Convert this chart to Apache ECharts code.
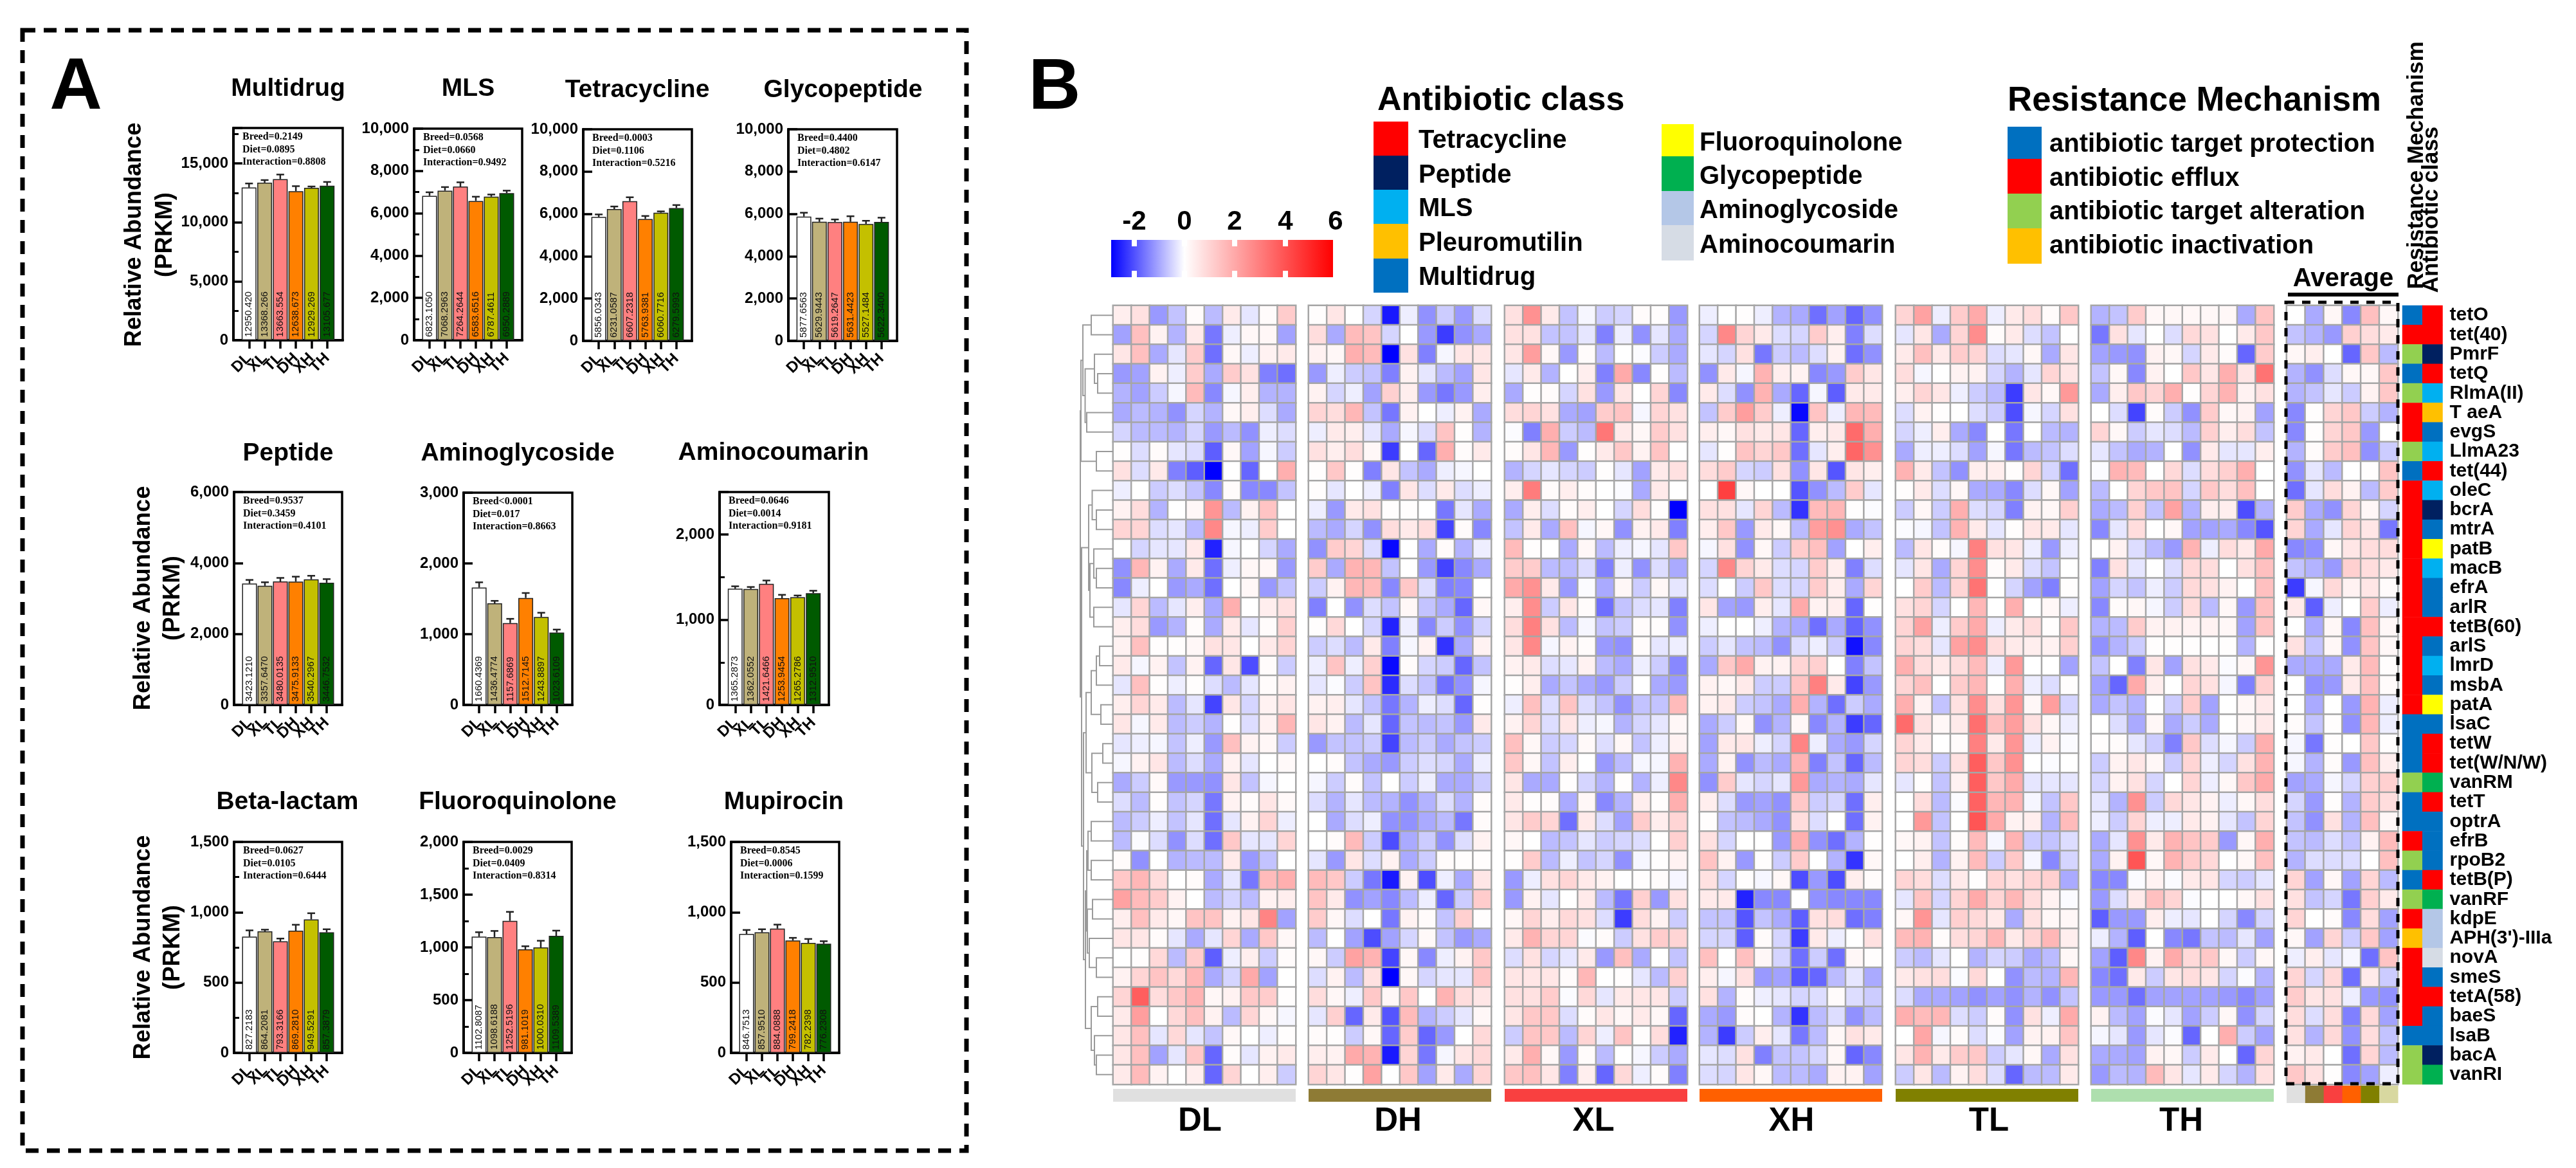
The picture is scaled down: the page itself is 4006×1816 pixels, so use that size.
<!DOCTYPE html>
<html><head><meta charset="utf-8">
<style>html,body{margin:0;padding:0;background:#fff}#c{width:4006px;height:1816px}</style>
<script src="https://cdn.jsdelivr.net/npm/echarts@6/dist/echarts.min.js"></script>
</head><body><div id="c"></div>
<script>
// ---------- Panel A data ----------
const treatments = ['DL','XL','TL','DH','XH','TH'];
const barColors = ['#ffffff','#bfb27a','#ff8080','#ff8000','#c4c000','#005a00'];
const multidrugValues=[12950,13368,13663,12638,12929,13105];
const multidrugLabels=['12950.420','13368.266','13663.554','12638.673','12929.269','13105.677'];
const multidrugErrors=[345,215,390,430,110,320];
const mlsValues=[6823,7068,7264,6583,6787,6950];
const mlsLabels=['6823.1050','7068.2963','7264.2644','6583.6516','6787.4611','6950.2889'];
const mlsErrors=[170,170,200,200,100,120];
const tetracyclineValues=[5856,6231,6607,5763,6060,6279];
const tetracyclineLabels=['5856.0343','6231.0587','6607.2318','5763.9381','6060.7716','6279.5993'];
const tetracyclineErrors=[120,120,180,140,60,140];
const glycopeptideValues=[5877,5629,5619,5631,5527,5622];
const glycopeptideLabels=['5877.6563','5629.9443','5619.2647','5631.4423','5527.1484','5622.3400'];
const glycopeptideErrors=[180,150,120,260,150,200];
const peptideValues=[3423,3357,3480,3475,3540,3446];
const peptideLabels=['3423.1210','3357.6470','3480.0135','3475.9133','3540.2967','3446.7532'];
const peptideErrors=[100,100,100,140,100,100];
const aminoglycosideValues=[1660,1436,1157,1512,1243,1023];
const aminoglycosideLabels=['1660.4369','1436.4774','1157.6869','1512.7145','1243.8897','1023.6109'];
const aminoglycosideErrors=[73,35,60,70,60,42];
const aminocoumarinValues=[1365,1362,1421,1253,1265,1312];
const aminocoumarinLabels=['1365.2873','1362.0552','1421.6466','1253.9454','1265.2786','1312.9510'];
const aminocoumarinErrors=[28,23,40,40,20,29];
const betaValues=[827,864,793,869,949,857];
const betaLabels=['827.2183','864.2081','793.3166','869.2810','949.5291','857.3879'];
const betaErrors=[44,12,20,42,44,22];
const fluoroValues=[1102,1098,1252,981,1000,1109];
const fluoroLabels=['1102.8087','1098.6188','1252.5196','981.1019','1000.0310','1109.5389'];
const fluoroErrors=[42,58,85,30,63,50];
const mupirocinValues=[846,857,884,799,782,776];
const mupirocinLabels=['846.7513','857.9510','884.0888','799.2418','782.2398','776.2308'];
const mupirocinErrors=[28,22,28,19,28,18];

// ---------- Panel B data ----------
const genes=['tetO','tet(40)','PmrF','tetQ','RlmA(II)','T aeA','evgS','LlmA23','tet(44)','oleC','bcrA','mtrA','patB','macB','efrA','arlR','tetB(60)','arlS','lmrD','msbA','patA','lsaC','tetW','tet(W/N/W)','vanRM','tetT','optrA','efrB','rpoB2','tetB(P)','vanRF','kdpE',"APH(3')-IIIa",'novA','smeS','tetA(58)','baeS','lsaB','bacA','vanRI'];
const classNames=['Tetracycline','Peptide','MLS','Pleuromutilin','Multidrug','Fluoroquinolone','Glycopeptide','Aminoglycoside','Aminocoumarin'];
const classColors=['#ff0000','#002060','#00b0f0','#ffc000','#0070c0','#ffff00','#00b050','#b4c7e7','#d6dce5'];
const mechanismNames=['antibiotic target protection','antibiotic efflux','antibiotic target alteration','antibiotic inactivation'];
const mechanismColors=['#0070c0','#ff0000','#92d050','#ffc000'];
// indices into mechanismNames / classNames, one per gene
const geneMechanism=[0,1,2,0,2,1,1,2,0,1,1,1,1,1,1,1,1,1,1,1,1,0,0,0,2,0,0,1,2,0,2,1,3,1,1,1,1,0,2,2];
const geneClass=[0,0,1,0,2,3,4,2,0,2,1,4,5,2,4,4,0,4,2,4,5,4,0,0,6,0,4,4,4,0,6,7,7,8,4,0,4,4,1,6];

const dlRows=[
[.4,.7,-1.2,-.7,.1,-.8,.5,-.3,.1,1.2],[-1.1,1.5,.3,-.9,.5,-1.6,-.2,.2,.2,-1.1],[.6,1.5,-1,-.3,1.2,-1.7,.2,-.2,.3,.5],[-1.2,-1.1,.3,-.2,1.2,-1,1.2,.7,-1.5,-1.7],[-.9,-1.1,-.6,-.1,1.6,-1.4,-.1,.4,-.9,-.9],
[-1,-.8,-.9,-1.3,-.5,-.9,.2,.4,-.4,-1],[-.5,-.8,-.8,-.9,-.5,-1.2,-.8,-1.3,-.2,-.4],[.05,-.4,.1,-.3,-.4,-1.9,.2,-1.1,-.1,-.6],[.7,-.4,.5,-1.5,-1.9,-3,0,-1.8,0,1.9],[-.2,0,-.6,-.4,-.7,-1.4,.1,-1.4,-1.4,-.7],
[.3,.8,-.9,0,.2,2.5,-.8,.3,1.4,0],[1,1,-.4,-.3,-.8,2.8,-.1,-.2,1.2,0],[0,-.5,-.3,-.3,.5,-2.6,-.1,0,-.5,-1],[-1.3,1.7,.3,-1,.5,-1.7,-.2,.2,.2,-1.2],[-1.4,-.2,0,-1.2,-1,-1.7,0,.2,-1.2,-.7],
[-.3,1,-.8,-.3,.4,-1,1.9,0,.4,.7],[.4,.8,-1.2,-.9,.1,-1,.5,-.3,.1,1.1],[.3,1.5,.05,.05,.2,.7,.6,0,.5,1],[.5,-.1,.3,-.7,.3,-1.8,.6,-2.1,.1,-.6],[-.3,1.5,.05,-.2,.05,-.4,-.8,-.3,.1,.3],
[.4,1,.5,-.8,-.3,-2.2,.6,-.5,.3,.6],[.6,-.1,.5,-.8,-.6,-.9,.05,-.4,.3,1.7],[-.3,-.2,-.1,-.7,-.2,-1.2,1.5,.3,.2,-.6],[-.1,.3,.6,-.8,-.4,-1,.3,-.3,0,.15],[-1,-.6,.15,-1.2,-1.2,-1.3,.6,-.7,-.1,0],
[-.4,-.8,.05,-.7,-.5,-1.6,.3,.1,.6,.15],[-.8,-.6,-.2,-.7,-.3,-1.7,-.3,.3,1,-.2],[-.8,-.05,-.4,-1.3,-.4,-1.7,1.3,-.3,-.3,1],[.1,-1.3,0,-.9,-.8,-.8,.5,-1.2,-.7,0],[1.3,1.7,.8,0,.1,-1,-.3,-1.6,1.6,1.9],
[2.2,1.6,1.2,.3,0,-.8,-.5,-.8,.3,.4],[.4,1.5,.5,.2,1.4,1.4,.3,.6,2.9,-1.1],[.6,.6,.1,-.3,-1,-.3,1,-1,1.3,.2],[0,.05,.9,-.8,1.2,-1.9,-.2,.4,-.6,.1],[.3,1,1.4,.9,1.7,-1,-.5,2,-1.1,0],
[1,3.8,.8,1.3,1.8,.2,.3,1.3,1.2,.05],[.5,2.3,0,.9,1.5,.3,-.8,1,.2,-.1],[.6,1.5,-.3,.9,-.3,-.7,.2,0,-.2,.05],[.6,1.5,-1.1,-.3,1.3,-1.8,.1,-.3,.3,.5],[.5,1.6,.3,0,.4,-1.8,1,0,.4,-.6]];
const dhRows=[
[.05,.6,0,-.5,-2.7,-.2,-1.3,-.6,-1.2,-.4],[.8,-1,1.6,1.4,-.5,0,-1.2,-2.3,-1.3,-1],[.3,.2,1.9,1.6,-3,.7,-1.5,-.1,.6,.6],[-1.2,-.2,-.6,-.7,-1.5,.3,-.3,-.8,-1.1,.6],[.3,-.5,-.2,-1.1,1.1,.4,-1.2,-1.6,-1.2,.4],
[1,.8,1.7,-.7,-1.6,.3,0,-.2,.3,-1],[-.2,.5,.4,-.3,-1,-.1,-.4,1.4,.05,-.9],[.7,.4,.8,.2,-2.3,0,-1.8,1.9,.1,.5],[.05,1.3,.05,-1.5,.6,-.7,-1,-.2,-.1,0],[.05,-.3,0,-.2,-1.5,.6,-.4,.5,-.4,-.2],
[-.2,-1.2,.5,.7,.05,.05,0,-1.6,-.3,-1],[-.8,-1,-.5,-1.3,.8,.5,.8,-2.2,.1,-1.4],[-1.3,1.2,1,-.4,-2.9,0,-1,.1,-.9,-.2],[1.2,-1,1.8,1.7,-.7,0,-1.2,-2.2,-1.4,-1],[-.6,.3,1.7,1.6,-1.4,1.3,-.4,-1.5,-1.4,0],
[-1.5,0,-1.3,-.4,-.7,.2,-.7,-1,-1.8,.2],[.05,.9,0,-.5,-2.6,-.2,-1.4,-.6,-1.3,-.5],[-.6,-.4,-.8,.5,-1.5,-.1,.3,-2.4,-1,.3],[-.2,1.4,-.2,1.1,-2.9,.1,-.5,-.6,-1.8,-.7],[-.3,-.05,-.6,1.4,-2.5,-.4,-.7,-1.7,-1.3,-.1],
[.3,.4,-.3,-.7,-1.6,-.9,-.2,-.4,-1.8,.05],[.6,.3,-.8,-.3,-1.8,-.7,-.8,-.7,-1.2,.5],[-1.2,-.7,-.7,-.6,-2.2,-.8,-.6,-1,-.7,-.6],[0,.1,-.7,-1,-1.2,-.6,-.4,-.5,-1,-.2],[-.1,-.6,.1,-.7,0,-.6,-.2,-1,-1,-.6],
[-.4,-.9,-.3,-.8,-.9,-1.3,-.9,-.4,-.9,.1],[0,-1,-.4,-.2,-1.3,-1.3,-1,-.8,-1.6,.1],[0,.1,1.6,-.6,-2.1,-1,-.6,-1.3,-.4,.3],[-.3,-1.2,.6,-.4,.3,-1,-.6,.1,.05,.05],[1.6,1.3,-.6,-1.6,-2.7,.3,-2.1,-.2,-1,.6],
[1.4,.5,-1.3,-1.1,-1.4,-.8,-.2,-1.8,-.6,1.2],[1.2,.2,-.4,0,-1.6,.3,.1,-.7,1.1,.05],[-.8,0,-1.1,-2.1,-1.1,-.5,.15,-.7,-1.2,-1],[.2,-.6,2.2,1.8,-2.2,.2,-1.4,-.2,.3,1.3],[-.4,.3,-.8,.7,-3,.2,-.5,-.3,-.3,1.4],
[.8,.2,-.2,1.3,.2,1.3,0,1.8,.8,.6],[-.3,1.1,-1.8,.5,-2,1.6,-.9,-.6,-.3,.2],[.1,.05,-.6,.2,-1.8,1.2,-1.8,-1.2,0,.9],[.4,.3,2,1.8,-2.7,1,-1.6,-.1,.6,.9],[1,.6,.05,2.2,0,1.3,-1.1,.5,-1,1]];
const xlRows=[
[.7,2.6,.5,-.7,-.1,-.6,-.5,.1,.05,-1.2],[.7,.7,-.7,-.7,-.3,-1.5,-.2,-1.3,-.3,-1],[.6,2.3,.2,-1.2,.1,-.8,0,-.05,-.6,-1],[-.3,.5,-.9,0,.4,-1.5,2,-1.4,.05,-.8],[-1,.05,.1,-.5,.7,-1.2,.6,0,1,-1.4],
[.8,1,.7,-1,-1.1,1.2,1.4,-.1,1,.7],[-.05,-1.5,1.9,-.6,-.8,3.2,.5,.2,1.2,.7],[.1,.6,1.7,-1.2,.05,.5,1.3,.3,1.4,0],[-.9,-.5,-.3,-.5,-.6,.05,-.3,-1.1,.5,.7],[.4,3.1,.1,.4,.1,0,-.05,-1,.5,0],
[-1,.4,-.4,.1,.4,0,-.5,.8,.05,-3],[-.7,.5,-1,1.5,-.1,.2,-1.3,.3,.5,-1.5],[1.6,.05,0,-1,.2,-.8,-.2,-.1,-.3,1.3],[1.2,1.2,-.8,-.8,-.4,-1.5,-.2,-1.3,-.4,-1],[2,2.6,.5,-1.2,-.05,-1,.2,-.6,.2,-.3],
[.4,2.7,-.6,.6,.1,-1.7,-.7,-.4,-.3,-1.5],[.8,3,.7,-.8,-.1,-.7,-.6,.1,.05,-1.3],[.6,2.8,-.1,.3,.1,-1.2,-1.3,.1,-.3,-.2],[.3,.5,-.4,-.3,.3,-.8,-1,-.2,-.6,-1.4],[.05,.4,-1,-.7,-1,-1.2,-.6,0,-1,-1.2],
[-.2,1.5,-.4,1.4,-.4,-.7,-1.3,-.7,-.7,1.6],[.3,1,-.4,.6,-.2,-.1,-.9,-.5,-.3,.2],[1.5,.2,-.6,-.5,.15,-.4,.2,-.7,-.2,.3],[1.3,.2,-.7,.4,0,-1.2,-.8,-.1,-.1,1.8],[.6,-1,-1,.05,-.5,-.9,.05,-.9,-.2,2.8],
[.5,.05,.1,-1,.2,-1.4,-.9,.4,.05,1.9],[.6,1.2,1,-1.7,.5,-.4,-1.1,1.2,.4,1],[.2,0,-.8,-.7,-.3,-.6,-.5,-.4,0,1.1],[.05,1.2,-.8,-.2,-.7,-.5,-1.3,-.1,.05,.3],[-1.2,-.2,.7,1,.5,.3,0,.05,.1,-.1],
[-1.2,.3,-.3,0,.5,-.8,-1.6,1.1,-1.2,.7],[.2,1,.4,.9,.7,-.4,-2.3,.8,.3,-.6],[.5,1.8,1,1,-.05,.1,-.6,.7,1.2,1],[-.4,.7,-.5,-.3,.5,-1.2,1.5,-1,0,-.7],[.6,.6,.6,.1,1.7,0,.05,-.3,-.8,1.1],
[.7,.7,1.2,-.05,.9,-.3,.5,.6,.6,-.6],[.6,1.3,1.3,-.4,.1,.6,.2,.5,.2,-1.8],[-.6,1.4,1.3,-.8,1,-.2,1.4,.05,.8,-2.6],[.5,1.9,.2,-1.2,.1,-.8,0,-.1,-.6,-1],[1.3,1.5,.6,-1.5,.4,-1.8,.9,-.2,.1,-1.5]];
const xhRows=[
[-.2,0,.05,-.2,-.9,-1,-1.7,-1.1,-1.8,-1.3],[-.5,2.8,1,.5,-.4,-.5,1.2,.4,-1.5,-.4],[-.3,-.5,.7,-1.6,-.6,-.8,-.4,.3,-1.7,-1.3],[-1.3,.5,-.1,1.8,.4,.3,-1.4,-1.2,1.2,.6],[.5,-.4,-1.3,1.8,-1,-1.8,-.1,-1.9,.5,.5],
[-.7,1.2,2.3,1.2,-.2,-2.9,1.4,-.2,1.7,1.6],[.4,.2,.7,.5,.6,-1.8,.4,.5,3.5,1.9],[-.3,.05,1.4,1,1.3,-1.7,-.3,.4,3.6,2.6],[.8,1.2,-.5,-.6,.7,-1.3,.6,-2,.6,.4],[0,4.5,.2,0,0,-2,-1.3,-.8,1.2,-.3],
[.7,.7,-.3,1,-.8,-2.4,1.6,1.7,.05,-.05],[.4,1.3,-1.2,.5,.2,-.8,2.3,2.6,-1,-.7],[-.1,.7,-1.3,.2,-.6,1.2,1.5,-1.1,0,.4],[-.5,2.8,1,.5,-.4,-.5,1.2,.4,-1.5,-.4],[-.4,0,-.6,1.3,-.4,-.5,1.2,.4,-1,1],
[.6,-1.1,-1.2,.4,-.3,2,.3,.4,-1.8,.05],[-.2,0,0,-.2,-.9,-1,-1.7,-1,-1.8,-1.3],[-.6,-.3,-.7,-.8,-1.3,-.4,-.2,-.6,-2.8,-1.4],[-1,1.3,2,.3,.3,1,1.1,0,-1.5,-.7],[.3,.2,.5,-.6,-.6,1.4,3,.5,-2.2,-1.2],
[.3,.5,-.6,-.7,-1,1.9,-.9,-1.7,-.6,-1],[-1,-.6,.2,-1.3,-.9,.2,-1.4,-.9,-2.3,-1.8],[-1.1,.5,.6,-.2,-.5,2.9,-.2,-1,-1.2,-.5],[-1,.3,-1.3,-.8,-1,1.8,-1.5,-.7,-1.8,-.8],[-1.3,1.2,-.3,-.5,-.3,2.4,-1,-.9,-1,-.3],
[.4,-.4,-1.2,-1.1,-1.3,1.3,-.6,-.5,-1.7,.4],[.05,-.7,-.8,-1,-1.3,.8,-.4,0,-1.7,.3],[.7,-.5,0,0,-1.2,1.9,-1.3,-1.7,-.9,.05],[1.4,.3,-1.2,.05,-.6,1.2,0,-.9,-2.4,.2],[.7,-.5,.05,-.1,.2,-2.1,-1.2,-2.1,.4,.1],
[.5,.5,-2.6,-1.4,-1.4,0,-1.3,-1.4,-1.4,-1.4],[-.7,-.7,-2,-.7,-1,-1.9,.7,.8,-1.7,-1.5],[-.5,-.5,-1.9,.1,-.5,-2.3,.5,-.2,0,.7],[1.5,0,1.5,.2,-.5,-1.7,-.6,-1.7,.2,.05],[.4,-.1,.7,-1.2,-1.1,-2,-1.8,-.8,-.3,-1],
[.7,-.9,.1,-.2,-.3,-.5,-.4,.1,-.4,-.6],[-1,-1.2,.1,0,-.9,-2.4,-.8,-.4,-1.3,-.8],[-.9,-2.3,-.6,.4,-.3,-1.6,-.8,.2,.7,.5],[-.3,-.4,.7,-1.5,-.7,-.7,-.5,.2,-1.8,-1.4],[-.4,-.5,.6,.2,-.8,-.8,-1,.3,.3,-1.1]];
const tlRows=[
[1,2.2,-.2,1.2,2,-.2,.5,.8,.1,1.3],[-.3,.6,-1,1,2.7,.1,.5,-.4,-.7,0],[.5,1.5,.5,1.2,1,-.4,-.3,.2,-1,.6],[.8,-.1,0,.3,.3,-.5,-.9,-.3,1,.6],[.4,1,.6,-.2,-.6,-.8,-2.3,.6,.2,2.4],
[-.4,.3,.05,0,-.4,-.6,-2.1,-.1,-.5,.7],[-.5,-.2,.4,-1,-1.4,0,-1.6,0,-.8,-.9],[-1,-.2,-.2,-.4,-1.1,-.1,-1.6,-.8,-.7,-.4],[1.8,.5,-.7,-1.3,.4,.4,.05,1,-.5,-1.7],[.05,.5,-.4,.2,-1,-1,-1.4,-.4,.2,-1.1],
[-.6,.2,-.6,1.9,-.4,-.5,-1.5,.3,.2,1.1],[-.05,-.1,-.7,1.8,.5,-.3,.05,.6,.5,-.3],[-.8,.6,.1,-.1,3,.7,.6,-.2,-1.2,-.2],[-.3,.6,-1,1,2.7,.1,.5,-.4,-.7,0],[0,1.2,-.8,1,3.3,0,-.5,-1.1,-1.5,.05],
[.7,1,-.5,0,1.7,0,1.9,0,.2,-.2],[1,2.2,-.2,1.2,2,-.2,.5,.8,.05,1.3],[1,.8,-.3,2.2,2.7,.8,.5,.4,.3,1.1],[1.9,.8,.5,.8,1.6,-.2,2.4,0,0,-1.1],[1,1.5,0,1.2,1.7,0,1.9,-.2,-.4,.05],
[1.9,.3,-.7,.7,2.7,.7,2.5,.2,2.3,-.5],[3.5,.7,.2,.5,3.4,1.5,2.3,.7,.2,-.2],[1,.5,0,.1,3,.5,2.5,-.2,.3,-.05],[1,.8,-.6,.7,3.8,1.3,2.6,0,-.05,0],[-.3,.05,-.7,.3,3.8,1.3,2,-.3,-.3,-.3],
[0,.8,-.8,-.05,3.7,1.7,1.8,-.1,-.7,1.3],[0,2.4,-.7,0,4,2,.3,.4,-.9,1.6],[.2,.3,-.7,.1,1.6,-.1,1.8,-.6,-.7,-.4],[0,.4,-.9,.3,1.6,-.6,1.3,-.1,-1.4,-.5],[1,.8,-.4,.5,.05,1,.7,1,1.1,-1],
[-.3,1.4,-.5,1,2,1,1.7,.8,.3,-.05],[.2,2.5,-.3,1.1,.9,.5,-1,.7,.2,.2],[1.6,1.8,.1,.8,1,1.7,.5,1,1.7,.4],[-.6,-.8,-.3,0,-.9,-.5,-.6,-1,-.8,.2],[.5,.7,.8,-.05,.9,0,-1.3,-.8,-.9,1.7],
[-.4,-1,-1,-1.1,-1.3,-1.1,-1.3,-.9,-1.3,-.7],[1.9,1.6,1.7,-.4,-.6,.1,-1.3,.7,-.2,2],[0,2.1,-.1,.1,-.4,-.05,-1.1,.3,.3,1.4],[.6,1.8,.5,1.2,1.3,-.6,-.3,.2,-1,.7],[-.6,.6,-.8,.3,.8,-.4,-1.8,-.8,-.8,.5]];
const thRows=[
[-.9,-.7,1.2,.2,.2,.2,.2,.2,-1,1.4],[-1.6,.7,-.3,0,-.4,.9,.7,0,.5,1.3],[-1.1,-1.2,-1.3,.3,.2,-.5,.5,.1,-1.8,1.2],[-.7,.2,-1.4,.3,0,1.3,.6,1.9,.6,3.3],[-1,.4,1.3,1,1.9,.05,1,1.8,.3,.7],
[0,-.4,-2.2,.1,-.6,-1.3,1.2,.2,.3,-1.1],[1,.2,-.6,-.3,-.4,-.8,1.1,.4,.8,-.7],[-.3,-.7,-1,-.9,0,-1.3,.5,-.3,-.3,.4],[-.05,1.8,1.6,0,.9,-.4,.8,1.1,1.9,0],[-.8,0,1,1.3,1.4,-.5,1.3,.8,1.5,0],
[-1,-.8,1.1,-.7,2.2,-.9,.4,.4,-2.1,-.9],[-1.4,-.3,.8,0,.2,-1.1,-1.1,-1,-1.4,-2],[0,.3,-.4,-.8,-1.2,1.8,-.2,.8,.5,2],[-1.5,.7,-.3,0,-.4,.9,.8,0,.7,1.5],[-1.1,-.5,-.7,-.2,-.6,.9,.7,.3,0,1.5],
[-1.4,.1,.2,-.1,-.6,.8,-.8,.2,-1.2,1.5],[-.9,-.8,1.2,.3,.3,.3,.3,.2,-1.1,1.4],[-1.3,-.9,-.6,.05,.05,.05,0,.05,-.9,.05],[-.7,0,-1.5,.6,-1.1,.7,.5,-.05,.2,2.5],[-1.1,-1.8,2,.4,0,1,.7,-.1,-1.5,1.1],
[-1,-.7,-.9,0,-.6,1.2,-1.1,0,.2,.5],[0,-.4,-1,.2,-1,-.6,-1,0,.2,.5],[.05,.1,-.3,-.6,-1.5,1.3,-.4,-.1,-.6,1.9],[-.6,.3,.6,.2,-.6,1,-.2,-.5,.7,1.8],[-.5,.3,.7,-.5,0,1,-.2,.2,1.3,2],
[-.3,-.9,2.6,-.6,.9,.6,.3,-.2,.2,.8],[-.2,-.6,1,-.2,-.2,.5,.3,-.3,-.7,1],[-1,-.3,2.6,.5,1.8,1.4,1.2,-1.2,.2,1.9],[-1,.3,4,.2,1.8,1.2,.9,0,.2,1.5],[-1.4,-1.4,-.05,.3,-.05,.5,.6,-.5,-.6,-.3],
[-1.2,-.4,.5,1.5,1,-.05,0,0,.2,.7],[-1.9,-1.2,-1.2,.4,-.2,-.3,0,-.5,-1.4,-.5],[-.2,-.9,-1.9,0,-1.4,-1.6,-.7,-.8,-.3,-1.1],[-1.1,-1.9,2.8,.3,2,.9,1.3,.2,-.6,.2],[-1.4,-1.7,.5,-.6,.6,.8,.6,-.5,-.05,-.9],
[-1.2,-1.2,-1.7,-1.1,-1.1,-1.1,-1.1,-1.2,-1.4,-1.1],[.3,-.8,-1.1,-.05,-.3,-1.1,-.6,.2,-1.3,-.5],[-.1,-.3,-1.2,-.3,-.05,-1.8,0,1.9,-.6,-1.1],[-1,-1,-1.1,.3,.2,-.6,.5,0,-1.8,1],[-1.2,-.8,-.9,1.6,.6,-.3,.5,-.5,-.9,.7]];
const avgRows=[
[0,-1,.2,-1.4,1.5,.2],[-.7,-.9,-1.2,1.1,.8,.5],[.2,.4,0,-1.8,1.3,-.8],[-.9,-1.3,-.4,.2,.2,1.3],[-.9,-.7,-.3,-.6,.3,1.3],
[-1.4,.05,1,1.3,-.6,-.9],[-1.4,.05,1,1.3,-1.2,0],[-.9,.1,1.2,1.5,-1.3,-.6],[-1.3,-.3,-.8,0,.05,1.4],[-1.7,-.3,.8,.3,-.8,1.2],
[1.2,-1,-1.3,1,.2,-.5],[1,-1,-.3,1,.6,-1.6],[-1.4,-1.3,.2,.6,.8,.8],[-.7,-.9,-1.2,1.1,.8,.5],[-2.3,-.1,.9,.3,.6,.1],
[.5,-1.9,-.2,0,1.2,-.2],[0,-1,.2,-1.4,1.5,.2],[.7,-.7,.2,-1.3,1.4,.2],[-1,-1,-1,.5,1.6,.05],[0,-1.3,-1.2,.5,1.5,.1],
[0,-1,0,-1.2,1.8,-.2],[.1,-.7,.05,-1.3,1.7,-.2],[-.1,-1.6,.05,0,1.3,.05],[-.1,-.9,.1,-1.2,1.5,.4],[-1.1,-1,-.1,-.5,1.1,1.1],
[-.5,-1.2,.05,-.9,1.2,.8],[-.7,-1.3,.7,-.9,1.5,.2],[-.7,-.8,-.4,-.7,.3,1.6],[-.9,-.4,-.4,-.4,0,1.5],[1,-1.1,.2,-1.1,1,-.8],
[.7,-.7,-.5,-1.6,1.1,.5],[1,0,.1,-1.4,.8,-1.1],[.2,-1.1,1,-.6,1.3,-1.1],[-.2,.4,-.3,-.1,-1.7,1.4],[1,-.5,.9,-1.7,.5,-.6],
[1.2,.6,.7,-.2,-1.2,-1.3],[.8,-.4,.8,-1.5,.9,-1.1],[.7,-.9,.9,-1.3,.8,-.7],[.3,.5,0,-1.7,1,-.8],[1.3,.7,.05,-1.4,-1.1,-.2]];
// row dendrogram: [height, childA, childB], a number child is a row index
const rowTree=[51,
 [50,[47,[34,0,1],[43.5,[29,2,[24,3,4]],[41,5,6]]],[26,7,8]],
 [49,[38,[32.5,9,[26,10,11]],[36,[30,12,[26,13,14]],[30,15,16]]],
  [46,[42,[34,[26,[21,17,18],19],[19,20,21]],[33,[16,22,23],[24,24,25]]],
   [43,[41,[39,[34,26,27],[34,28,29]],[40,[32,30,31],[37,32,[26,33,34]]]],
    [34,[24,35,36],[29,37,[26,38,39]]]]]]];

// ---------- layout ----------
const FONT='"Liberation Sans",Arial,sans-serif';
const SERIF='"Liberation Serif","Times New Roman",serif';
const panels=[
 {t:'Multidrug',v:multidrugValues,l:multidrugLabels,e:multidrugErrors,p:['Breed=0.2149','Diet=0.0895','Interaction=0.8808'],max:18000,step:5000,minor:true,box:[363,199,170,330],tx:448,ty:138},
 {t:'MLS',v:mlsValues,l:mlsLabels,e:mlsErrors,p:['Breed=0.0568','Diet=0.0660','Interaction=0.9492'],max:10000,step:2000,minor:true,box:[644,200,168,329],tx:728,ty:138},
 {t:'Tetracycline',v:tetracyclineValues,l:tetracyclineLabels,e:tetracyclineErrors,p:['Breed=0.0003','Diet=0.1106','Interaction=0.5216'],max:10000,step:2000,minor:false,box:[907,201,169,329],tx:991,ty:140},
 {t:'Glycopeptide',v:glycopeptideValues,l:glycopeptideLabels,e:glycopeptideErrors,p:['Breed=0.4400','Diet=0.4802','Interaction=0.6147'],max:10000,step:2000,minor:false,box:[1226,201,169,329],tx:1311,ty:140},
 {t:'Peptide',v:peptideValues,l:peptideLabels,e:peptideErrors,p:['Breed=0.9537','Diet=0.3459','Interaction=0.4101'],max:6000,step:2000,minor:false,box:[364,765,168,331],tx:448,ty:705},
 {t:'Aminoglycoside',v:aminoglycosideValues,l:aminoglycosideLabels,e:aminoglycosideErrors,p:['Breed<0.0001','Diet=0.017','Interaction=0.8663'],max:3000,step:1000,minor:false,box:[721,766,169,330],tx:805,ty:705},
 {t:'Aminocoumarin',v:aminocoumarinValues,l:aminocoumarinLabels,e:aminocoumarinErrors,p:['Breed=0.0646','Diet=0.0014','Interaction=0.9181'],max:2500,step:1000,minor:true,box:[1119,765,170,331],tx:1203,ty:704},
 {t:'Beta-lactam',v:betaValues,l:betaLabels,e:betaErrors,p:['Breed=0.0627','Diet=0.0105','Interaction=0.6444'],max:1500,step:500,minor:true,box:[364,1309,168,328],tx:447,ty:1247},
 {t:'Fluoroquinolone',v:fluoroValues,l:fluoroLabels,e:fluoroErrors,p:['Breed=0.0029','Diet=0.0409','Interaction=0.8314'],max:2000,step:500,minor:true,box:[721,1309,168,328],tx:805,ty:1247},
 {t:'Mupirocin',v:mupirocinValues,l:mupirocinLabels,e:mupirocinErrors,p:['Breed=0.8545','Diet=0.0006','Interaction=0.1599'],max:1500,step:500,minor:false,box:[1137,1309,168,328],tx:1219,ty:1247}
];
const yLabelRows=[[209,257,365],[223,269,930],[223,269,1473]];
const blocks=[
 {name:'DL',rows:dlRows,x:1731,w:284,color:'#e0e0e0',lx:1866},
 {name:'DH',rows:dhRows,x:2035,w:284,color:'#8e7b35',lx:2174},
 {name:'XL',rows:xlRows,x:2340,w:284,color:'#f94040',lx:2478},
 {name:'XH',rows:xhRows,x:2643,w:284,color:'#ff6000',lx:2786},
 {name:'TL',rows:tlRows,x:2948,w:284,color:'#808000',lx:3093},
 {name:'TH',rows:thRows,x:3252,w:284,color:'#aedfae',lx:3392}
];
const HM_TOP=475,HM_H=1211;
const avgBlock={rows:avgRows,x:3556,w:173};
const avgStrip=['#e0e0e0','#8e7b35','#f94040','#ff6000','#808000','#d8d8a0'];

// ---------- build ----------
const grid=[],xAxis=[],yAxis=[],series=[],graphic=[];
function txt(s,x,y,size,weight,opt){opt=opt||{};
 graphic.push({type:'text',x:x,y:y,rotation:opt.rot||0,silent:true,z:20,style:{text:s,fontSize:size,fontWeight:weight,fontFamily:opt.fam||FONT,fill:'#000',align:opt.align||'center',verticalAlign:'middle'}});
}
function rect(x,y,w,h,fill){graphic.push({type:'rect',silent:true,z:5,shape:{x:x,y:y,width:w,height:h},style:{fill:fill}});}

panels.forEach(function(p){
 const g=grid.length,[L,T,W,H]=p.box;
 grid.push({left:L,top:T,width:W,height:H,show:true,borderColor:'#000',borderWidth:3.5,backgroundColor:'transparent',containLabel:false});
 xAxis.push({gridIndex:g,type:'category',data:[''].concat(treatments,['']),boundaryGap:false,
  axisLine:{lineStyle:{color:'#000',width:4}},
  axisTick:{length:13,interval:function(i){return i>=1&&i<=6;},lineStyle:{color:'#000',width:3.5}},
  axisLabel:{interval:0,rotate:45,margin:24,color:'#000',fontFamily:FONT,fontWeight:'bold',fontSize:24},splitLine:{show:false}});
 yAxis.push({gridIndex:g,type:'value',min:0,max:p.max,interval:p.step,
  axisLine:{show:true,lineStyle:{color:'#000',width:4}},
  axisTick:{show:true,inside:true,length:14,lineStyle:{color:'#000',width:3.5}},
  minorTick:{show:p.minor,splitNumber:2,length:8,lineStyle:{color:'#000',width:3}},
  splitLine:{show:false},minorSplitLine:{show:false},
  axisLabel:{margin:8,color:'#000',fontFamily:FONT,fontWeight:'bold',fontSize:24,showMaxLabel:p.max%p.step===0,formatter:function(v){return v.toLocaleString('en-US');}}});
 const labels=p.l;
 series.push({type:'bar',xAxisIndex:g,yAxisIndex:g,silent:true,animation:false,barWidth:23,z:3,
  data:[null].concat(p.v.map(function(v,i){return {value:v,itemStyle:{color:barColors[i]}};}),[null]),
  itemStyle:{borderColor:'#222',borderWidth:1.5},
  label:{show:true,position:'insideBottom',rotate:90,align:'left',verticalAlign:'middle',distance:5,fontFamily:FONT,fontSize:15,color:'#111',
   formatter:function(o){return labels[o.dataIndex-1];}}});
 series.push({type:'custom',xAxisIndex:g,yAxisIndex:g,silent:true,animation:false,z:2,
  data:p.v.map(function(v,i){return [i+1,v,p.e[i]];}),
  renderItem:function(par,api){
   const x=api.value(0),v=api.value(1),e=api.value(2),a=api.coord([x,v]),b=api.coord([x,v+e]);
   const st={stroke:'#222',lineWidth:2.5,fill:null};
   return {type:'group',children:[
    {type:'line',shape:{x1:a[0],y1:a[1],x2:b[0],y2:b[1]},style:st},
    {type:'line',shape:{x1:b[0]-6,y1:b[1],x2:b[0]+6,y2:b[1]},style:st}]};
  }});
 txt(p.t,p.tx,p.ty,39,'bold');
 p.p.forEach(function(s,i){txt(s,L+14,T+14+i*19.5,16,'bold',{fam:SERIF,align:'left'});});
});
yLabelRows.forEach(function(r){
 txt('Relative Abundance',r[0],r[2],36.5,'bold',{rot:Math.PI/2});
 txt('(PRKM)',r[1],r[2],36.5,'bold',{rot:Math.PI/2});
});

const heatSeries=[],annotSeries=[];
function heatBlock(rows,x,w){
 const g=grid.length;
 grid.push({left:x,top:HM_TOP,width:w,height:HM_H,show:false});
 xAxis.push({gridIndex:g,type:'category',show:false,data:rows[0].map(function(_,i){return i;})});
 yAxis.push({gridIndex:g,type:'category',show:false,inverse:true,data:genes});
 const d=[];
 rows.forEach(function(r,i){r.forEach(function(v,j){d.push([j,i,v]);});});
 heatSeries.push(series.length);
 series.push({type:'heatmap',xAxisIndex:g,yAxisIndex:g,silent:true,animation:false,data:d,
  itemStyle:{borderColor:'#a6a6a6',borderWidth:2.5}});
}
blocks.forEach(function(b){
 heatBlock(b.rows,b.x,b.w);
 rect(b.x,1693,b.w,20,b.color);
 txt(b.name,b.lx,1744,51,'bold');
});
heatBlock(avgBlock.rows,avgBlock.x,avgBlock.w);
avgStrip.forEach(function(c,i){rect(avgBlock.x+i*avgBlock.w/6,1688,avgBlock.w/6+0.5,27,c);});

// side annotation
(function(){
 const g=grid.length;
 grid.push({left:3736,top:HM_TOP,width:62.5,height:HM_H,show:false});
 xAxis.push({gridIndex:g,type:'category',show:false,data:['Resistance Mechanism','Antibiotic class']});
 yAxis.push({gridIndex:g,type:'category',inverse:true,position:'right',data:genes,axisLine:{show:false},axisTick:{show:false},
  axisLabel:{interval:0,margin:11,color:'#000',fontFamily:FONT,fontWeight:'bold',fontSize:30},splitLine:{show:false}});
 const d=[];
 genes.forEach(function(_,i){d.push([0,i,geneMechanism[i]]);d.push([1,i,4+geneClass[i]]);});
 annotSeries.push(series.length);
 series.push({type:'heatmap',xAxisIndex:g,yAxisIndex:g,silent:true,animation:false,data:d,itemStyle:{borderWidth:0}});
})();

// dendrogram
(function(){
 const g=grid.length,segs=[];
 grid.push({left:1680,top:HM_TOP,width:51,height:HM_H,show:false});
 xAxis.push({gridIndex:g,type:'value',show:false,inverse:true,min:0,max:51});
 yAxis.push({gridIndex:g,type:'value',show:false,inverse:true,min:-0.5,max:39.5});
 function walk(n){
  if(typeof n==='number')return [0,n];
  const a=walk(n[1]),b=walk(n[2]);
  segs.push([n[0],a[1],b[1],a[0],b[0]]);
  return [n[0],(a[1]+b[1])/2];
 }
 walk(rowTree);
 series.push({type:'custom',xAxisIndex:g,yAxisIndex:g,silent:true,animation:false,data:segs,
  renderItem:function(par,api){
   const h=api.value(0),y0=api.value(1),y1=api.value(2),h0=api.value(3),h1=api.value(4);
   return {type:'polyline',shape:{points:[api.coord([h0,y0]),api.coord([h,y0]),api.coord([h,y1]),api.coord([h1,y1])]},style:{stroke:'#9a9a9a',lineWidth:2,fill:null}};
  }});
})();

// panel frame & letters
graphic.push({type:'rect',silent:true,z:1,shape:{x:35,y:47,width:1468,height:1742},style:{fill:'none',stroke:'#000',lineWidth:7,lineDash:[20,13]}});
txt('A',118,138,113,'bold');
txt('B',1640,138,112,'bold');

// colour bar
graphic.push({type:'rect',silent:true,z:5,shape:{x:1728,y:373,width:345,height:58},
 style:{fill:{type:'linear',x:0,y:0,x2:1,y2:0,colorStops:[{offset:0,color:'#0000ff'},{offset:.33,color:'#ffffff'},{offset:1,color:'#ff0000'}]}}});
[['-2',1764],['0',1842],['2',1920],['4',1999],['6',2077]].forEach(function(t){
 txt(t[0],t[1],345,42,'bold');
 if(t[0]!=='6'){rect(t[1]-4,373,8,10,'#fff');rect(t[1]-4,421,8,10,'#fff');}
});

// legends
txt('Antibiotic class',2142,157,52,'bold',{align:'left'});
const col1=[[189,53,219],[242,53,273],[295,53,325],[348,54,379],[402,53,432]];
col1.forEach(function(r,i){rect(2136,r[0],54,r[1],classColors[i]);txt(classNames[i],2206,r[2],40,'bold',{align:'left'});});
const col2=[[193,50,223],[243,54,275],[297,53,328],[350,55,382]];
col2.forEach(function(r,i){rect(2584,r[0],50,r[1],classColors[i+5]);txt(classNames[i+5],2643,r[2],40,'bold',{align:'left'});});
txt('Resistance Mechanism',3122,157,52.8,'bold',{align:'left'});
const col3=[[197,50,225],[247,54,278],[301,54,330],[355,55,383]];
col3.forEach(function(r,i){rect(3122,r[0],53,r[1],mechanismColors[i]);txt(mechanismNames[i],3187,r[2],40,'bold',{align:'left'});});

// average box
txt('Average',3644,434,40,'bold');
rect(3558,455,172,6,'#000');
graphic.push({type:'rect',silent:true,z:15,shape:{x:3555,y:470,width:174,height:1215},style:{fill:'none',stroke:'#000',lineWidth:5,lineDash:[13,12]}});
txt('Resistance Mechanism',3758,257,35,'bold',{rot:Math.PI/2});
txt('Antibiotic class',3781,326,35,'bold',{rot:Math.PI/2});

const palette=mechanismColors.concat(classColors);
const option={
 backgroundColor:'#fff',animation:false,grid:grid,xAxis:xAxis,yAxis:yAxis,series:series,graphic:graphic,
 visualMap:[
  {type:'continuous',show:false,min:-3,max:6,seriesIndex:heatSeries,dimension:2,inRange:{color:['#0000ff','#ffffff','#ff8080','#ff0000']}},
  {type:'piecewise',show:false,seriesIndex:annotSeries,dimension:2,pieces:palette.map(function(c,i){return {value:i,color:c};})}
 ]
};
echarts.init(document.getElementById('c')).setOption(option);
</script></body></html>
